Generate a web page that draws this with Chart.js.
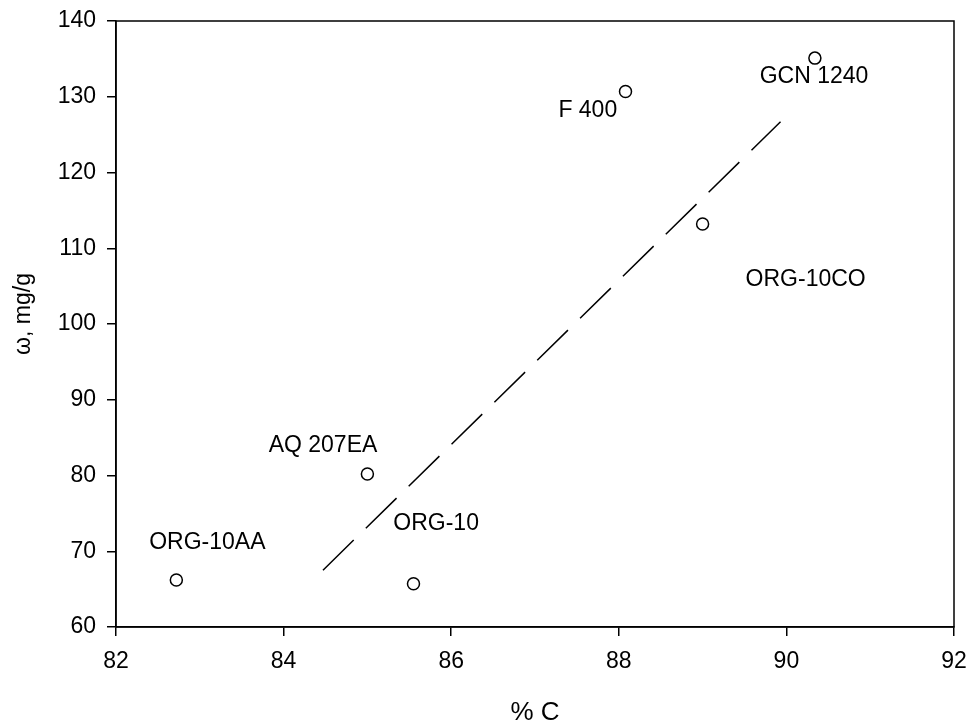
<!DOCTYPE html>
<html lang="en">

<head>
  <meta charset="UTF-8" />
  <meta name="viewport" content="width=device-width, initial-scale=1.0" />
  <title>Omega vs % C</title>
  <script src="https://cdn.jsdelivr.net/npm/chart.js"></script>
  <style>
    html,
    body {
      margin: 0;
      padding: 0;
      background: #fff;
    }

    #wrap {
      width: 971px;
      height: 725px;
    }
  </style>
</head>

<body>
  <div id="wrap"><canvas id="omegaChart"></canvas></div>

  <script>
    // samples
    const sampleNames = ["ORG-10AA", "AQ 207EA", "ORG-10", "F 400", "GCN 1240", "ORG-10CO"];
    const carbonPct = [82.72, 85.0, 85.55, 88.08, 90.34, 89.0];
    const omegaVals = [66.2, 80.2, 65.7, 130.7, 135.1, 113.2];

    // where each name sits (data units)
    const nameX = [83.09, 84.47, 85.82, 87.63, 90.33, 90.23];
    const nameY = [71.1, 84.0, 73.7, 128.2, 132.6, 105.8];

    // dashed fit line ends
    const fitX = [84.47, 89.93];
    const fitY = [67.5, 126.7];

    const xTicks = [82, 84, 86, 88, 90, 92];
    const yTicks = [60, 70, 80, 90, 100, 110, 120, 130, 140];

    const FONT = "'Liberation Sans', Arial, sans-serif";

    const points = carbonPct.map((x, i) => ({ x, y: omegaVals[i] }));
    const fitLine = fitX.map((x, i) => ({ x, y: fitY[i] }));

    // frame, sample names and axis titles
    const extras = {
      id: "extras",
      afterDraw(chart) {
        const { ctx, chartArea: a, scales } = chart;
        ctx.save();
        ctx.strokeStyle = "#000";
        ctx.lineWidth = 1.5;
        ctx.strokeRect(a.left, a.top, a.right - a.left, a.bottom - a.top);

        ctx.fillStyle = "#000";
        ctx.font = "23px " + FONT;
        ctx.textAlign = "center";
        ctx.textBaseline = "middle";
        sampleNames.forEach((n, i) => {
          ctx.fillText(n, scales.x.getPixelForValue(nameX[i]), scales.y.getPixelForValue(nameY[i]));
        });

        ctx.font = "26px " + FONT;
        ctx.fillText("% C", (a.left + a.right) / 2, a.bottom + 86);

        ctx.translate(24, (a.top + a.bottom) / 2 - 10);
        ctx.rotate(-Math.PI / 2);
        ctx.font = "23px " + FONT;
        ctx.fillText("ω, mg/g", 0, 0);
        ctx.restore();
      }
    };

    new Chart(document.getElementById("omegaChart"), {
      type: "scatter",
      data: {
        datasets: [
          {
            data: points,
            pointRadius: 6,
            pointHoverRadius: 6,
            pointBorderWidth: 1.5,
            pointBorderColor: "#000",
            pointBackgroundColor: "#fff"
          },
          {
            type: "line",
            data: fitLine,
            borderColor: "#000",
            borderWidth: 1.5,
            borderDash: [43, 17],
            pointRadius: 0,
            fill: false
          }
        ]
      },
      options: {
        responsive: true,
        maintainAspectRatio: false,
        animation: false,
        layout: { padding: { top: 21, right: 17, left: 0, bottom: 0 } },
        plugins: { legend: { display: false }, tooltip: { enabled: false } },
        scales: {
          x: {
            type: "linear",
            min: 82,
            max: 92,
            afterBuildTicks: s => { s.ticks = xTicks.map(v => ({ value: v })); },
            afterFit: s => { s.height = 98; s.paddingLeft = 0; s.paddingRight = 0; },
            grid: { drawOnChartArea: false, tickLength: 9, color: "#000", lineWidth: 1.5 },
            border: { color: "#000", width: 1.5 },
            ticks: { color: "#000", font: { size: 23, family: FONT }, padding: 12, maxRotation: 0 }
          },
          y: {
            type: "linear",
            min: 60,
            max: 140,
            afterBuildTicks: s => { s.ticks = yTicks.map(v => ({ value: v })); },
            afterFit: s => { s.width = 116; s.paddingTop = 0; s.paddingBottom = 0; },
            grid: { drawOnChartArea: false, tickLength: 9, color: "#000", lineWidth: 1.5 },
            border: { color: "#000", width: 1.5 },
            ticks: { color: "#000", font: { size: 23, family: FONT }, padding: 11 }
          }
        }
      },
      plugins: [extras]
    });
  </script>
</body>

</html>
